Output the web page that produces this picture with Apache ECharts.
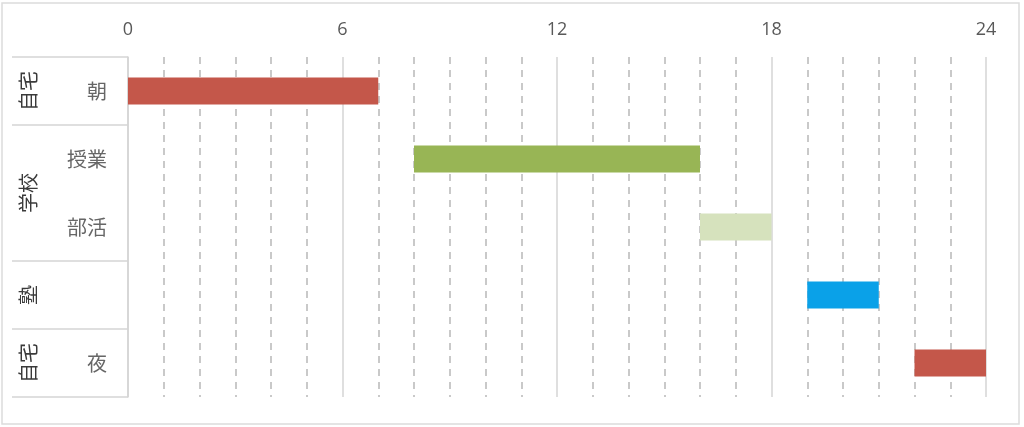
<!DOCTYPE html>
<html>
<head>
<meta charset="utf-8">
<script src="https://cdn.jsdelivr.net/npm/echarts@6/dist/echarts.min.js"></script>
<style>
html,body{margin:0;padding:0;background:#fff;}
#c{width:1024px;height:427px;}
</style>
</head>
<body>
<div id="c"></div>
<script>
// ---- data ----
const categories = ['朝', '授業', '部活', '', '夜'];
const startHours = [0, 8, 16, 19, 22];
const endHours = [7, 16, 18, 21, 24];
const groupNames = ['自宅', '学校', '塾', '自宅'];
const groupFirstRow = [0, 1, 3, 4];
const groupLastRow = [0, 2, 3, 4];
const xTicks = [0, 6, 12, 18, 24];

// ---- styles ----
const palette = ['#c4574a', '#98b555', '#d6e2bd', '#0aa1e8', '#c4574a'];
const FONT = '"Noto Sans CJK JP", "Noto Sans", sans-serif';
const NUMFONT = '"Open Sans", "Noto Sans", sans-serif';
const lineGray = '#d4d4d4';

const chart = echarts.init(document.getElementById('c'), null, {renderer: 'canvas'});

const durations = startHours.map((s, i) => endHours[i] - s);

chart.setOption({
  animation: false,
  backgroundColor: '#fff',
  grid: {left: 128, right: 38, top: 57, bottom: 30, containLabel: false},
  xAxis: {
    type: 'value',
    position: 'top',
    min: xTicks[0],
    max: xTicks[xTicks.length - 1],
    interval: 6,
    axisLine: {show: false},
    axisTick: {show: false},
    axisLabel: {
      color: '#595959', fontSize: 18, fontFamily: NUMFONT, margin: 18,
      formatter: v => String(v)
    },
    splitLine: {show: true, lineStyle: {color: lineGray, width: 1.5}},
    minorTick: {show: false, splitNumber: 6},
    minorSplitLine: {show: true, lineStyle: {color: '#b8b8b8', width: 1.5, type: [7, 6]}}
  },
  yAxis: {
    type: 'category',
    inverse: true,
    data: categories,
    axisLine: {show: true, lineStyle: {color: lineGray, width: 1.5}},
    axisTick: {show: false},
    axisLabel: {color: '#666666', fontSize: 20, fontFamily: FONT, margin: 21},
    splitLine: {show: false}
  },
  series: [
    {
      type: 'bar',
      stack: 'time',
      silent: true,
      itemStyle: {color: 'transparent'},
      barWidth: '40%',
      data: startHours
    },
    {
      type: 'bar',
      stack: 'time',
      barWidth: '40%',
      data: durations.map((d, i) => ({value: d, itemStyle: {color: palette[i]}}))
    }
  ]
});

// ---- group label column built from the category scale ----
function drawGroups() {
  const c0 = chart.convertToPixel({yAxisIndex: 0}, 0);
  const c1 = chart.convertToPixel({yAxisIndex: 0}, 1);
  const band = c1 - c0;
  const axisX = chart.convertToPixel({xAxisIndex: 0}, 0);
  const leftX = 12;
  const elements = [];
  const topY = c0 - band / 2;
  elements.push({type: 'line', shape: {x1: leftX, y1: topY, x2: axisX, y2: topY},
    style: {stroke: lineGray, lineWidth: 1.5}, silent: true});
  groupNames.forEach((name, g) => {
    const yTop = chart.convertToPixel({yAxisIndex: 0}, groupFirstRow[g]) - band / 2;
    const yBot = chart.convertToPixel({yAxisIndex: 0}, groupLastRow[g]) + band / 2;
    elements.push({type: 'line', shape: {x1: leftX, y1: yBot, x2: axisX, y2: yBot},
      style: {stroke: lineGray, lineWidth: 1.5}, silent: true});
    elements.push({
      type: 'text', x: 28, y: (yTop + yBot) / 2, rotation: Math.PI / 2,
      style: {text: name, fill: '#3a3a3a', font: '20px ' + FONT, align: 'center', verticalAlign: 'middle'},
      silent: true
    });
  });
  elements.push({type: 'rect', shape: {x: 2, y: 3, width: 1017, height: 421},
    style: {fill: 'none', stroke: '#dcdcdc', lineWidth: 1.5}, silent: true});
  chart.setOption({graphic: elements});
}
drawGroups();
</script>
</body>
</html>
